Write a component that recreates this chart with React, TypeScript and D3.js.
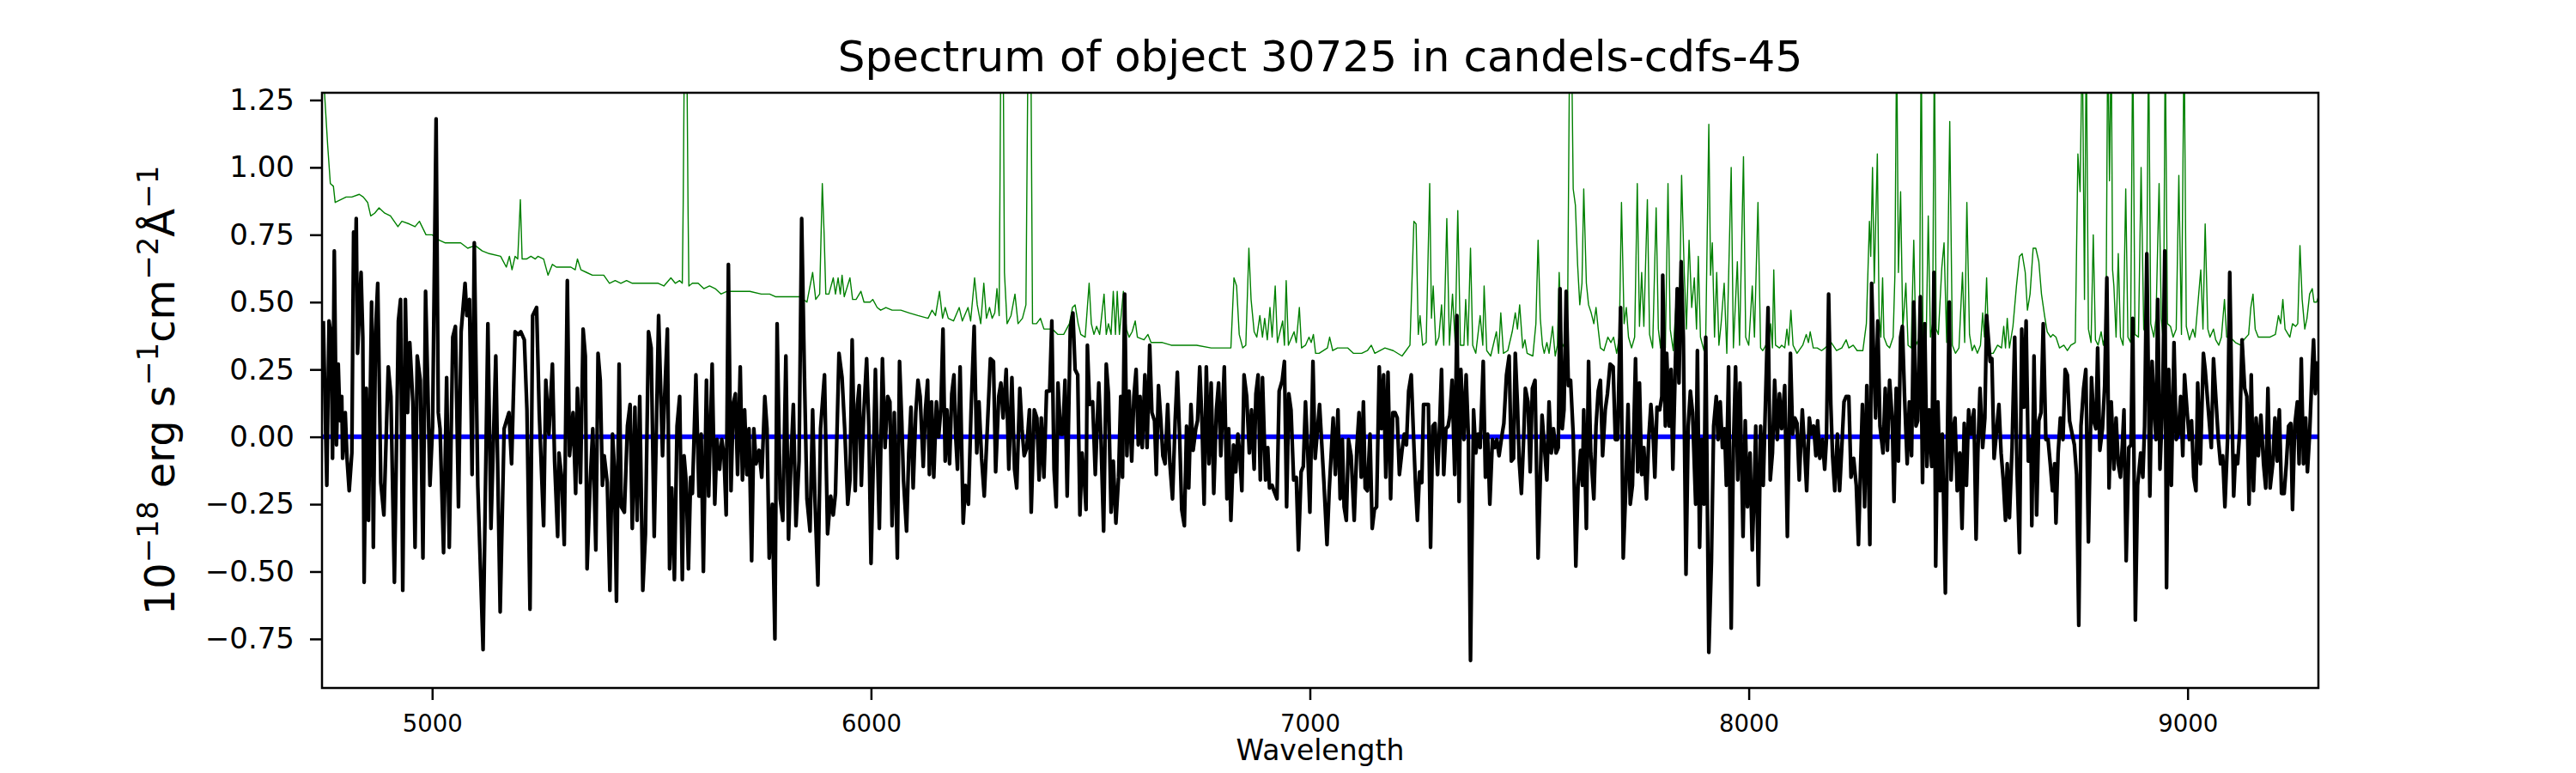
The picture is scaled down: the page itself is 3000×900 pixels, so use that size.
import React, { useEffect, useRef } from 'react';
import * as d3 from 'd3';

type Pt = [number, number];

const TITLE = 'Spectrum of object 30725 in candels-cdfs-45';
const X_LABEL = 'Wavelength';
const xTicks = [5000, 6000, 7000, 8000, 9000];
const yTicks = [1.25, 1.0, 0.75, 0.5, 0.25, 0, -0.25, -0.5, -0.75];
const xDomain: [number, number] = [4749, 9298];
const yDomain: [number, number] = [-0.932, 1.277];
const zeroLevel = 0;

// object spectrum (black), [wavelength, flux]
const objectFlux: Pt[] = [
  [4752, 0.43], [4760, -0.18], [4765, 0.43], [4770, 0.37], [4773, -0.08], [4777, 0.69], [4782, -0.03], [4786, 0.27],
  [4790, 0.06], [4794, 0.15], [4796, -0.08], [4802, 0.09], [4806, -0.08], [4811, -0.2], [4817, -0.06], [4821, 0.76],
  [4825, 0.61], [4827, 0.81], [4830, 0.31], [4838, 0.61], [4842, 0.37], [4845, -0.54], [4850, 0.18], [4855, -0.31],
  [4862, 0.5], [4866, -0.41], [4871, 0.39], [4876, 0.57], [4883, -0.17], [4890, -0.29], [4894, -0.07], [4900, 0.26],
  [4906, 0.15], [4914, -0.54], [4923, 0.43], [4928, 0.51], [4933, -0.57], [4939, 0.51], [4944, 0.09], [4949, 0.35],
  [4956, 0.13], [4961, -0.41], [4966, 0.3], [4973, 0.21], [4979, -0.45], [4985, 0.54], [4990, 0.19], [4995, -0.18],
  [5001, 0.04], [5009, 1.18], [5014, 0.09], [5018, 0.03], [5026, -0.43], [5033, 0.22], [5039, -0.41], [5047, 0.37],
  [5053, 0.41], [5060, -0.26], [5066, 0.39], [5075, 0.57], [5079, 0.45], [5085, 0.51], [5091, -0.14], [5096, 0.72],
  [5104, -0.18], [5116, -0.79], [5127, 0.42], [5134, -0.34], [5145, 0.3], [5155, -0.65], [5164, 0.03], [5175, 0.09],
  [5181, -0.1], [5189, 0.39], [5196, 0.38], [5202, 0.39], [5210, 0.36], [5216, 0.1], [5223, -0.64], [5229, 0.45],
  [5238, 0.48], [5244, 0.09], [5254, -0.33], [5259, 0.21], [5266, 0.01], [5274, 0.27], [5279, -0.09], [5286, -0.37],
  [5289, -0.06], [5295, -0.15], [5301, -0.4], [5308, 0.58], [5313, -0.07], [5321, 0.09], [5327, -0.21], [5331, 0.18],
  [5338, -0.17], [5344, 0.4], [5349, 0.3], [5353, -0.49], [5360, -0.17], [5366, 0.03], [5373, -0.42], [5378, 0.31],
  [5383, 0.21], [5388, -0.18], [5392, -0.07], [5399, -0.17], [5405, -0.57], [5411, 0.01], [5415, -0.11], [5420, -0.61],
  [5426, 0.27], [5431, -0.26], [5438, -0.28], [5445, 0.04], [5451, 0.12], [5456, -0.34], [5462, 0.11], [5467, -0.31],
  [5473, 0.15], [5480, -0.57], [5486, -0.36], [5493, 0.39], [5499, 0.33], [5506, -0.37],
  [5516, 0.45], [5525, -0.07], [5529, 0.12], [5536, 0.4], [5541, -0.49], [5546, -0.19], [5552, -0.53], [5558, 0.04],
  [5564, 0.15], [5570, -0.53], [5574, -0.07], [5579, -0.17], [5584, -0.49], [5589, -0.15], [5593, -0.21], [5601, 0.23],
  [5608, -0.22], [5613, 0.01], [5618, -0.5], [5625, 0.21], [5630, -0.22], [5638, 0.27], [5644, -0.25], [5649, -0.01],
  [5655, -0.12], [5660, -0.01], [5665, -0.07], [5670, -0.29], [5675, 0.64], [5681, -0.2], [5686, 0.12], [5691, 0.16],
  [5696, -0.14], [5702, 0.26], [5707, -0.16], [5712, 0.1], [5717, -0.14], [5722, 0.03], [5728, -0.46], [5733, 0.03],
  [5738, -0.1], [5745, -0.05], [5751, -0.15], [5758, 0.15], [5763, 0.03], [5768, -0.45], [5775, -0.25], [5781, -0.75],
  [5786, 0.42], [5793, -0.23], [5799, -0.31], [5806, 0.3], [5812, -0.38], [5818, -0.07], [5823, 0.12], [5829, -0.33],
  [5836, -0.09], [5842, 0.81], [5848, 0.25], [5854, -0.23], [5861, -0.35], [5867, 0.1], [5872, -0.22], [5879, -0.55],
  [5885, 0.03], [5894, 0.23], [5901, -0.36], [5908, -0.22], [5914, -0.29], [5919, -0.21], [5927, 0.31], [5934, 0.22],
  [5940, 0.03], [5947, -0.25], [5952, -0.16], [5957, 0.36], [5964, -0.2], [5969, 0.12], [5973, 0.19], [5978, -0.18],
  [5983, 0.07], [5990, 0.29], [5995, 0.04], [6000, -0.47], [6010, 0.25],
  [6019, -0.34], [6026, 0.29], [6032, -0.04], [6038, 0.15], [6043, 0.13], [6048, -0.33], [6053, 0.09], [6060, -0.45],
  [6065, 0.28], [6070, 0.06], [6074, -0.16], [6081, -0.35], [6086, -0.06], [6091, 0.11], [6096, -0.19], [6102, 0.09],
  [6107, 0.21], [6112, 0.15], [6119, -0.11], [6124, 0.1], [6129, 0.21], [6133, -0.14], [6138, 0.13], [6143, -0.15],
  [6149, 0.13], [6154, 0.0], [6159, 0.1], [6164, 0.4], [6169, -0.09], [6173, 0.1], [6179, -0.1], [6184, 0.16],
  [6189, 0.23], [6193, 0.0], [6197, -0.12], [6203, 0.26], [6210, -0.32], [6215, -0.18], [6222, -0.25], [6228, 0.1],
  [6235, 0.41], [6241, -0.06], [6246, 0.13], [6252, -0.08], [6258, -0.22], [6265, 0.03], [6272, 0.29], [6279, 0.28],
  [6284, -0.13], [6291, 0.15], [6296, 0.2], [6301, 0.07], [6308, 0.25], [6314, -0.12], [6321, 0.22], [6327, -0.12],
  [6332, -0.19], [6339, 0.18], [6344, 0.03], [6349, -0.07], [6355, -0.04], [6361, 0.1], [6365, -0.28], [6372, 0.1],
  [6378, 0.07], [6383, -0.16], [6388, 0.07], [6394, -0.15], [6400, 0.17], [6407, 0.17], [6412, 0.43], [6417, -0.12],
  [6422, -0.26], [6426, 0.2], [6432, 0.01], [6437, 0.01], [6442, 0.21], [6447, -0.22], [6454, 0.4], [6460, 0.46],
  [6465, 0.25], [6471, 0.23], [6476, -0.29], [6481, -0.06], [6486, -0.16], [6490, -0.27], [6493, 0.34], [6498, 0.12],
  [6505, 0.13], [6511, -0.14],
  [6519, 0.2], [6524, -0.01], [6530, -0.35], [6536, 0.27], [6541, 0.16], [6547, -0.28], [6552, -0.09], [6558, -0.32],
  [6564, -0.15], [6569, 0.15], [6573, -0.15], [6578, 0.53], [6583, -0.07], [6588, 0.17], [6594, -0.09], [6599, 0.15],
  [6604, 0.25], [6609, -0.03], [6613, 0.15], [6618, -0.04], [6624, 0.23], [6629, -0.04], [6635, 0.34], [6640, 0.09],
  [6646, 0.06], [6650, -0.14], [6655, 0.19], [6660, 0.07], [6665, -0.07], [6670, -0.1], [6676, 0.12], [6681, -0.1],
  [6687, -0.23], [6693, 0.06], [6698, 0.24], [6703, 0.01], [6708, -0.27], [6714, -0.33], [6719, 0.04], [6724, -0.19],
  [6729, 0.12], [6734, -0.05], [6740, 0.03], [6744, 0.06], [6749, 0.26], [6754, 0.06], [6759, -0.25], [6764, 0.26],
  [6770, -0.1], [6775, 0.2], [6781, -0.21], [6787, 0.1], [6792, 0.2], [6797, -0.07], [6805, 0.26], [6811, -0.23],
  [6815, 0.03], [6820, -0.31], [6826, -0.03], [6831, -0.13], [6836, 0.01], [6840, -0.06], [6845, -0.2], [6850, 0.23],
  [6856, 0.15], [6862, -0.06], [6867, 0.1], [6873, -0.12], [6877, 0.16], [6882, 0.23], [6887, -0.16], [6892, 0.22],
  [6899, -0.16], [6904, -0.04], [6908, -0.19], [6914, -0.18], [6918, -0.2], [6925, -0.23], [6930, 0.17], [6937, 0.21],
  [6942, 0.28], [6947, -0.26], [6952, 0.16], [6957, 0.1], [6963, -0.16], [6969, -0.15], [6974, -0.42], [6980, -0.13],
  [6985, -0.11], [6990, 0.13], [6995, -0.05], [7000, -0.28], [7007, 0.28], [7012, -0.08], [7022, 0.12],
  [7032, -0.17], [7039, -0.4], [7044, -0.2], [7049, -0.05], [7053, 0.07], [7058, -0.14], [7064, 0.1], [7069, -0.23],
  [7074, -0.01], [7078, -0.26], [7083, -0.31], [7088, -0.01], [7094, -0.07], [7101, -0.31], [7107, -0.04], [7112, 0.09],
  [7117, -0.15], [7122, 0.13], [7126, -0.19], [7131, -0.2], [7137, 0.01], [7142, -0.34], [7147, -0.27], [7152, -0.26],
  [7158, 0.26], [7163, 0.03], [7168, 0.23], [7173, -0.15], [7178, 0.24], [7184, -0.23], [7189, 0.09], [7194, 0.09],
  [7199, 0.07], [7204, -0.14], [7210, -0.05], [7215, 0.01], [7220, -0.03], [7225, 0.17], [7231, 0.23], [7236, 0.01],
  [7241, -0.19], [7245, -0.31], [7250, -0.13], [7255, -0.17], [7259, 0.12], [7264, 0.12], [7270, 0.12], [7275, -0.41],
  [7280, 0.04], [7285, 0.05], [7291, -0.14], [7296, 0.06], [7300, 0.25], [7305, -0.14], [7310, 0.03], [7315, 0.04],
  [7319, 0.08], [7324, 0.21], [7330, -0.14], [7335, 0.45], [7340, -0.24], [7344, 0.25], [7351, -0.01], [7356, 0.23],
  [7361, 0.01], [7366, -0.83], [7373, 0.1], [7378, -0.06], [7383, 0.01], [7388, -0.04], [7395, 0.28], [7400, -0.15],
  [7405, 0.01], [7410, -0.25], [7416, -0.01], [7421, -0.04], [7426, -0.01], [7431, -0.07], [7438, 0.01], [7442, 0.05],
  [7448, 0.23], [7454, 0.3], [7459, -0.09], [7464, -0.08], [7468, 0.31], [7473, 0.12], [7477, -0.09], [7482, -0.21],
  [7487, -0.01], [7491, 0.18], [7497, 0.13], [7502, -0.13], [7507, 0.18], [7513, 0.21], [7520, -0.45],
  [7529, 0.08], [7540, -0.16], [7545, 0.13], [7550, -0.06], [7555, 0.03], [7561, -0.06], [7566, -0.04], [7570, 0.55],
  [7575, 0.03], [7579, 0.1], [7584, 0.54], [7589, 0.19], [7594, 0.21], [7600, 0.01], [7606, -0.48], [7611, -0.18],
  [7617, -0.05], [7621, -0.18], [7624, 0.1], [7630, -0.34], [7635, 0.28], [7640, -0.06], [7647, -0.23], [7652, 0.04],
  [7657, 0.17], [7662, 0.21], [7667, -0.07], [7673, 0.1], [7678, 0.16], [7684, 0.27], [7691, 0.26], [7696, -0.01],
  [7701, -0.01], [7708, 0.48], [7714, -0.45], [7720, -0.18], [7725, 0.12], [7730, -0.25], [7735, -0.18], [7742, 0.29],
  [7747, -0.13], [7751, 0.2], [7756, -0.14], [7761, -0.04], [7767, -0.23], [7772, -0.01], [7777, 0.12], [7782, 0.01],
  [7786, -0.15], [7791, 0.11], [7797, 0.1], [7802, 0.15], [7804, 0.6], [7810, 0.04], [7813, 0.31], [7819, 0.04],
  [7823, 0.25], [7827, -0.12], [7832, 0.22], [7837, 0.55], [7841, 0.2], [7846, 0.65], [7851, 0.37], [7857, -0.51],
  [7862, 0.04], [7867, 0.17], [7872, 0.09], [7879, -0.25], [7883, 0.32], [7888, -0.41], [7893, -0.01], [7898, -0.25],
  [7902, 0.37], [7909, -0.8], [7915, -0.46], [7920, 0.04], [7926, 0.15], [7930, -0.01], [7935, 0.13], [7940, -0.04],
  [7945, 0.03], [7949, -0.18], [7954, 0.26], [7960, -0.71], [7965, -0.04], [7970, 0.26], [7975, -0.16], [7980, 0.2],
  [7987, -0.37], [7992, 0.06], [7997, -0.26], [8003, -0.06], [8008, -0.42], [8012, -0.22], [8016, 0.04], [8022, -0.55],
  [8027, 0.04], [8033, -0.18],
  [8044, 0.48], [8049, -0.16], [8054, -0.06], [8059, 0.21], [8065, -0.01], [8070, 0.16], [8075, 0.03], [8082, 0.19],
  [8088, -0.37], [8095, 0.31], [8100, 0.01], [8105, 0.07], [8110, 0.05], [8115, -0.16], [8122, 0.1], [8127, -0.04],
  [8132, -0.2], [8138, 0.07], [8143, 0.01], [8148, 0.04], [8153, -0.07], [8157, 0.06], [8162, -0.08], [8168, -0.01],
  [8173, -0.12], [8177, -0.01], [8182, 0.53], [8187, 0.12], [8191, -0.07], [8196, -0.2], [8202, 0.01], [8207, -0.2],
  [8212, -0.04], [8217, 0.13], [8222, 0.15], [8228, 0.15], [8233, -0.15], [8239, -0.08], [8245, -0.18], [8250, -0.4],
  [8255, -0.1], [8259, 0.12], [8264, -0.26], [8269, 0.19], [8276, -0.4], [8280, 0.57], [8285, 0.28], [8289, 0.07],
  [8294, 0.43], [8299, 0.04], [8306, -0.06], [8311, 0.18], [8316, -0.05], [8321, 0.21], [8327, 0.06], [8331, -0.24],
  [8336, 0.18], [8341, -0.09], [8346, 0.37], [8350, 0.41], [8355, 0.15], [8361, -0.1], [8366, 0.13], [8371, -0.07],
  [8376, 0.5], [8381, 0.04], [8385, 0.06], [8391, 0.52], [8396, -0.17], [8401, 0.42], [8406, -0.11], [8411, 0.1],
  [8417, -0.11], [8422, 0.61], [8426, -0.48], [8431, 0.13], [8436, -0.2], [8441, 0.01], [8448, -0.58], [8453, 0.04],
  [8457, 0.5], [8461, -0.16], [8466, 0.03], [8470, 0.07], [8475, -0.2], [8481, -0.06], [8486, -0.34], [8491, 0.05],
  [8496, -0.18], [8501, 0.1], [8507, 0.01], [8513, 0.1], [8518, -0.38], [8522, -0.06], [8527, 0.18], [8533, -0.04],
  [8538, 0.07],
  [8542, 0.45], [8550, 0.28], [8554, 0.29], [8559, -0.08], [8564, 0.01], [8570, 0.12], [8575, -0.06], [8580, -0.16],
  [8585, -0.31], [8589, -0.1], [8594, -0.3], [8600, -0.04], [8606, 0.37], [8611, -0.11], [8617, -0.43], [8622, 0.4],
  [8627, 0.11], [8632, 0.43], [8637, -0.09], [8643, -0.01], [8645, -0.33], [8650, 0.3], [8656, -0.29], [8661, 0.06],
  [8666, 0.09], [8671, 0.42], [8677, -0.01], [8682, -0.01], [8687, -0.1], [8692, -0.2], [8697, -0.1], [8700, -0.32],
  [8705, -0.06], [8710, 0.07], [8716, -0.01], [8721, 0.25], [8726, 0.23], [8731, 0.06], [8737, 0.01], [8742, -0.03],
  [8747, -0.14], [8752, -0.7], [8757, 0.04], [8763, 0.18], [8768, 0.25], [8774, -0.39], [8781, 0.22], [8786, 0.06],
  [8791, 0.03], [8795, 0.33], [8800, -0.05], [8806, 0.03], [8811, 0.19], [8816, 0.59], [8821, -0.19], [8826, 0.13],
  [8832, -0.12], [8837, 0.07], [8842, -0.1], [8847, -0.15], [8851, -0.04], [8855, 0.1], [8860, -0.46], [8866, -0.04],
  [8871, -0.03], [8875, 0.44], [8881, -0.68], [8886, -0.18], [8893, -0.06], [8898, -0.15], [8902, 0.04], [8907, 0.68],
  [8914, -0.22], [8919, 0.28], [8923, 0.13], [8928, -0.01], [8932, 0.51], [8937, -0.12], [8943, 0.13], [8948, 0.69],
  [8952, -0.56], [8957, 0.25], [8963, -0.18], [8969, 0.35], [8974, -0.01], [8979, 0.01], [8984, 0.15], [8989, -0.07],
  [8993, 0.23], [8999, 0.09], [9004, -0.01], [9009, 0.06], [9014, -0.15], [9019, -0.2], [9023, 0.2], [9029, -0.1],
  [9036, 0.31], [9040, 0.25],
  [9054, -0.04], [9059, 0.29], [9070, -0.01], [9075, -0.1], [9080, -0.07], [9085, -0.26], [9091, -0.01], [9096, 0.61],
  [9101, 0.1], [9105, -0.22], [9109, -0.07], [9114, -0.1], [9119, 0.03], [9124, 0.36], [9130, 0.18], [9135, 0.15],
  [9140, -0.25], [9145, 0.23], [9150, -0.2], [9156, 0.07], [9161, -0.07], [9167, 0.08], [9173, -0.1], [9178, -0.19],
  [9183, 0.18], [9188, -0.19], [9194, -0.1], [9199, 0.07], [9204, -0.09], [9209, 0.1], [9214, -0.21], [9220, -0.21],
  [9225, -0.1], [9230, 0.04], [9235, 0.05], [9239, -0.27], [9244, 0.04], [9250, 0.13], [9254, -0.1], [9259, 0.29],
  [9264, -0.1], [9269, 0.07], [9273, -0.13], [9278, 0.01], [9284, 0.26], [9287, 0.36], [9291, 0.16], [9297, 0.28],
];

// noise / sky spectrum (green), [wavelength, flux]
const noiseFlux: Pt[] = [
  [4751, 1.45], [4755, 1.27], [4762, 1.08], [4768, 0.94], [4775, 0.93], [4779, 0.87], [4791, 0.88], [4804, 0.89],
  [4817, 0.89], [4834, 0.9], [4843, 0.89], [4853, 0.87], [4860, 0.82], [4869, 0.83], [4879, 0.85], [4892, 0.83],
  [4905, 0.82], [4922, 0.78], [4931, 0.8], [4948, 0.79], [4961, 0.78], [4971, 0.8], [4986, 0.75], [5000, 0.75],
  [5016, 0.73], [5029, 0.72], [5046, 0.72], [5065, 0.72], [5081, 0.7], [5098, 0.71], [5114, 0.69], [5130, 0.68],
  [5156, 0.67], [5169, 0.63], [5176, 0.67], [5182, 0.62], [5189, 0.67], [5195, 0.66], [5201, 0.88], [5205, 0.66],
  [5215, 0.66], [5225, 0.67], [5235, 0.66], [5241, 0.67], [5254, 0.66], [5264, 0.6], [5274, 0.64], [5283, 0.63],
  [5300, 0.63], [5316, 0.63], [5326, 0.62], [5331, 0.66], [5339, 0.62], [5352, 0.61], [5365, 0.6], [5381, 0.6],
  [5391, 0.6], [5404, 0.57], [5417, 0.58], [5430, 0.57], [5443, 0.58], [5456, 0.57], [5469, 0.57], [5482, 0.57],
  [5495, 0.57], [5515, 0.57],
  [5528, 0.56], [5544, 0.59], [5554, 0.57], [5564, 0.58], [5570, 0.57], [5572, 0.86], [5575, 1.5], [5580, 1.5],
  [5583, 0.86], [5585, 0.56], [5593, 0.57], [5606, 0.57], [5619, 0.55], [5632, 0.56], [5645, 0.55], [5658, 0.53],
  [5672, 0.54], [5685, 0.54], [5698, 0.54], [5724, 0.54], [5750, 0.53], [5769, 0.53], [5782, 0.52], [5802, 0.52],
  [5828, 0.52], [5838, 0.52], [5854, 0.5], [5867, 0.61], [5874, 0.51], [5883, 0.53], [5889, 0.94], [5893, 0.76],
  [5897, 0.53], [5904, 0.53], [5914, 0.59], [5919, 0.53], [5925, 0.59], [5930, 0.53], [5934, 0.6], [5939, 0.52],
  [5952, 0.59], [5958, 0.51], [5966, 0.51], [5977, 0.54], [5984, 0.5], [5998, 0.5], [6004, 0.51], [6014, 0.48],
  [6022, 0.47], [6034, 0.48], [6048, 0.47], [6068, 0.47], [6087, 0.46], [6107, 0.45], [6130, 0.44], [6139, 0.47],
  [6147, 0.45], [6156, 0.54], [6163, 0.44], [6169, 0.48], [6176, 0.44], [6188, 0.43], [6201, 0.48], [6208, 0.43],
  [6221, 0.48], [6227, 0.43], [6236, 0.59], [6242, 0.49], [6250, 0.42], [6257, 0.57], [6263, 0.44], [6270, 0.48],
  [6276, 0.44], [6282, 0.46], [6287, 0.55], [6292, 0.45], [6296, 1.5], [6301, 1.5], [6304, 0.61], [6310, 0.42],
  [6319, 0.45], [6328, 0.53], [6335, 0.42], [6345, 0.44], [6353, 0.49], [6358, 1.5], [6364, 1.5], [6368, 0.42],
  [6377, 0.42], [6386, 0.44], [6394, 0.4], [6413, 0.4], [6426, 0.38], [6439, 0.38], [6452, 0.42], [6459, 0.48],
  [6465, 0.49], [6472, 0.42], [6478, 0.38], [6488, 0.37], [6497, 0.57], [6502, 0.42], [6508, 0.38],
  [6514, 0.41], [6521, 0.38], [6531, 0.53], [6536, 0.38], [6541, 0.42], [6547, 0.38], [6552, 0.54], [6557, 0.38],
  [6561, 0.54], [6566, 0.38], [6575, 0.54], [6582, 0.4], [6588, 0.37], [6595, 0.39], [6602, 0.43], [6607, 0.37],
  [6622, 0.36], [6631, 0.38], [6638, 0.35], [6664, 0.35], [6684, 0.34], [6710, 0.34], [6742, 0.34], [6775, 0.33],
  [6801, 0.33], [6820, 0.33], [6827, 0.59], [6833, 0.56], [6839, 0.38], [6847, 0.33], [6854, 0.34], [6861, 0.7],
  [6866, 0.51], [6873, 0.39], [6879, 0.37], [6886, 0.45], [6892, 0.37], [6897, 0.44], [6903, 0.36], [6909, 0.48],
  [6914, 0.37], [6921, 0.56], [6926, 0.35], [6938, 0.43], [6942, 0.34], [6946, 0.58], [6951, 0.34], [6964, 0.39],
  [6969, 0.35], [6976, 0.48], [6981, 0.33], [6990, 0.34], [6998, 0.37], [7003, 0.35], [7008, 0.38], [7013, 0.31],
  [7021, 0.31], [7040, 0.33], [7045, 0.37], [7052, 0.32], [7063, 0.33], [7076, 0.33], [7086, 0.33], [7099, 0.31],
  [7118, 0.31], [7131, 0.32], [7140, 0.34], [7148, 0.31], [7171, 0.33], [7190, 0.32], [7210, 0.3], [7219, 0.32],
  [7228, 0.34], [7237, 0.8], [7242, 0.79], [7247, 0.38], [7251, 0.45], [7257, 0.34], [7265, 0.35], [7273, 0.94],
  [7277, 0.44], [7281, 0.56], [7287, 0.34], [7294, 0.37], [7300, 0.49], [7305, 0.34], [7312, 0.81], [7318, 0.34],
  [7325, 0.53], [7331, 0.35], [7337, 0.84], [7343, 0.34], [7351, 0.34], [7355, 0.51], [7360, 0.34], [7366, 0.7],
  [7371, 0.34], [7378, 0.31], [7388, 0.45], [7394, 0.34], [7397, 0.56], [7403, 0.32], [7412, 0.3], [7425, 0.39],
  [7430, 0.31], [7435, 0.46], [7441, 0.31], [7451, 0.32], [7461, 0.39], [7468, 0.46], [7473, 0.4], [7478, 0.49],
  [7485, 0.33], [7490, 0.36], [7495, 0.31], [7508, 0.3], [7515, 0.42], [7520, 0.73], [7525, 0.44], [7530, 0.34],
  [7534, 0.31], [7540, 0.35], [7545, 0.31], [7553, 0.41], [7559, 0.3], [7564, 0.34], [7568, 0.61], [7574, 0.35],
  [7580, 0.33], [7587, 0.4], [7592, 1.5], [7596, 1.5], [7600, 0.92], [7605, 0.86], [7610, 0.64], [7615, 0.49],
  [7620, 0.57], [7624, 0.92], [7630, 0.57], [7635, 0.49], [7641, 0.46], [7647, 0.42], [7652, 0.48], [7657, 0.4],
  [7662, 0.33], [7670, 0.32], [7679, 0.37], [7686, 0.35], [7692, 0.37], [7699, 0.31], [7705, 0.37], [7710, 0.87],
  [7716, 0.42], [7721, 0.48], [7726, 0.37], [7733, 0.33], [7740, 0.37], [7746, 0.94], [7751, 0.41], [7756, 0.61],
  [7761, 0.41], [7769, 0.88], [7774, 0.38], [7781, 0.33], [7789, 0.85], [7794, 0.4], [7799, 0.33], [7804, 0.48],
  [7810, 0.33], [7816, 0.94], [7821, 0.4], [7828, 0.32], [7836, 0.54], [7841, 0.37], [7847, 0.97], [7853, 0.61],
  [7858, 0.4], [7864, 0.73], [7870, 0.48], [7876, 0.59], [7881, 0.4], [7885, 0.67], [7890, 0.37], [7898, 0.32],
  [7902, 0.37], [7909, 1.16], [7913, 0.6], [7917, 0.72], [7922, 0.37], [7927, 0.61], [7932, 0.34], [7937, 0.42],
  [7944, 0.57], [7950, 0.31], [7960, 1.0], [7965, 0.33], [7974, 0.65], [7979, 0.34], [7988, 1.04], [7993, 0.37],
  [8000, 0.34], [8008, 0.56], [8013, 0.37], [8021, 0.87], [8027, 0.33],
  [8032, 0.32], [8039, 0.34], [8044, 0.33], [8050, 0.42], [8054, 0.33], [8057, 0.62], [8061, 0.34], [8070, 0.33],
  [8075, 0.34], [8082, 0.33], [8087, 0.4], [8091, 0.34], [8096, 0.47], [8101, 0.34], [8110, 0.31], [8123, 0.34],
  [8131, 0.38], [8136, 0.35], [8140, 0.39], [8147, 0.33], [8156, 0.33], [8166, 0.32], [8174, 0.33], [8188, 0.35],
  [8200, 0.32], [8212, 0.33], [8222, 0.36], [8228, 0.33], [8238, 0.34], [8247, 0.32], [8260, 0.32], [8268, 0.42],
  [8275, 0.8], [8278, 0.67], [8282, 1.0], [8286, 0.57], [8293, 1.05], [8297, 0.45], [8301, 0.37], [8305, 0.59],
  [8308, 0.37], [8315, 0.34], [8321, 0.33], [8329, 0.37], [8333, 0.6], [8337, 1.5], [8341, 0.61], [8346, 0.91],
  [8351, 0.4], [8358, 0.57], [8363, 0.34], [8370, 0.33], [8376, 0.73], [8381, 0.34], [8389, 0.37], [8393, 1.5],
  [8397, 0.37], [8404, 0.33], [8409, 0.82], [8414, 0.37], [8419, 0.42], [8423, 1.5], [8427, 0.4], [8432, 0.38],
  [8440, 0.63], [8445, 0.72], [8451, 0.35], [8458, 1.17], [8464, 0.34], [8471, 0.31], [8479, 0.33], [8487, 0.61],
  [8492, 0.35], [8497, 0.87], [8503, 0.38], [8509, 0.32], [8514, 0.34], [8521, 0.31], [8528, 0.34], [8533, 0.46],
  [8537, 0.37], [8542, 0.59], [8547, 0.31], [8557, 0.31], [8567, 0.34], [8576, 0.33], [8581, 0.41], [8585, 0.33],
  [8589, 0.44], [8594, 0.33], [8602, 0.41], [8610, 0.56], [8617, 0.67], [8623, 0.68], [8630, 0.61], [8635, 0.47],
  [8641, 0.53], [8648, 0.7], [8654, 0.7], [8661, 0.65], [8667, 0.53], [8674, 0.45], [8680, 0.39], [8688, 0.37],
  [8693, 0.38], [8700, 0.37], [8708, 0.33], [8718, 0.34], [8726, 0.32], [8734, 0.34], [8744, 0.35], [8750, 1.05],
  [8755, 0.91], [8760, 1.5], [8765, 0.51], [8769, 1.5], [8774, 0.4], [8780, 0.35], [8785, 0.75], [8790, 0.36],
  [8796, 0.34], [8803, 0.39], [8808, 0.34], [8814, 0.4], [8818, 1.5], [8822, 0.95], [8826, 1.5], [8829, 0.62],
  [8832, 0.56], [8837, 0.37], [8842, 0.68], [8847, 0.37], [8853, 0.34], [8859, 0.92], [8864, 0.37], [8870, 0.35],
  [8875, 1.5], [8880, 0.38], [8888, 0.37], [8894, 1.0], [8900, 0.4], [8906, 0.38], [8911, 1.5], [8916, 0.42],
  [8923, 0.37], [8928, 0.44], [8935, 0.94], [8940, 0.44], [8945, 0.35], [8949, 1.5], [8954, 0.42], [8961, 0.41],
  [8967, 0.37], [8974, 0.4], [8980, 0.97], [8986, 0.38], [8992, 1.5], [8997, 0.41], [9004, 0.36], [9012, 0.4],
  [9017, 0.37], [9030, 0.62], [9035, 0.4], [9040, 0.79], [9046, 0.4], [9051, 0.37],
  [9059, 0.4], [9064, 0.36], [9071, 0.34], [9077, 0.37], [9084, 0.51], [9089, 0.37], [9097, 0.37], [9109, 0.35],
  [9121, 0.34], [9128, 0.36], [9139, 0.38], [9144, 0.48], [9149, 0.53], [9154, 0.4], [9161, 0.37], [9174, 0.37],
  [9187, 0.37], [9200, 0.38], [9207, 0.45], [9212, 0.42], [9217, 0.51], [9222, 0.4], [9233, 0.37], [9239, 0.42],
  [9246, 0.41], [9251, 0.42], [9256, 0.71], [9261, 0.51], [9267, 0.4], [9272, 0.44], [9278, 0.53], [9284, 0.55],
  [9288, 0.5], [9294, 0.5], [9298, 0.52],
];

const WIDTH = 3000;
const HEIGHT = 900;
const margin = { top: 108, right: 300, bottom: 99, left: 375 };
const FONT = "'DejaVu Sans', sans-serif";

export default function App() {
  const svgRef = useRef<SVGSVGElement>(null);

  useEffect(() => {
    if (!svgRef.current) return;
    const svg = d3.select(svgRef.current);
    svg.selectAll('*').remove();

    const x = d3.scaleLinear().domain(xDomain).range([margin.left, WIDTH - margin.right]);
    const y = d3.scaleLinear().domain(yDomain).range([HEIGHT - margin.bottom, margin.top]);

    svg.append('rect').attr('width', WIDTH).attr('height', HEIGHT).attr('fill', '#fff');

    svg.append('defs').append('clipPath').attr('id', 'plot-clip')
      .append('rect')
      .attr('x', margin.left)
      .attr('y', margin.top)
      .attr('width', WIDTH - margin.left - margin.right)
      .attr('height', HEIGHT - margin.top - margin.bottom);

    const plot = svg.append('g').attr('clip-path', 'url(#plot-clip)');
    const line = d3.line<Pt>().x(d => x(d[0])).y(d => y(d[1]));

    // noise spectrum
    plot.append('path')
      .datum(noiseFlux)
      .attr('d', line)
      .attr('fill', 'none')
      .attr('stroke', '#008000')
      .attr('stroke-width', 1.4)
      .attr('stroke-linejoin', 'round');

    // zero level
    plot.append('line')
      .attr('x1', x(xDomain[0]))
      .attr('x2', x(xDomain[1]))
      .attr('y1', y(zeroLevel))
      .attr('y2', y(zeroLevel))
      .attr('stroke', '#0000ff')
      .attr('stroke-width', 5.5);

    // object spectrum
    plot.append('path')
      .datum(objectFlux)
      .attr('d', line)
      .attr('fill', 'none')
      .attr('stroke', '#000')
      .attr('stroke-width', 4.3)
      .attr('stroke-linejoin', 'round');

    // axes
    const xAxis = svg.append('g')
      .attr('transform', `translate(0,${HEIGHT - margin.bottom})`)
      .call(d3.axisBottom(x).tickValues(xTicks).tickSize(14).tickPadding(17.5).tickFormat(d3.format('d')));
    xAxis.selectAll('text').attr('font-size', 27.5).attr('font-family', FONT).attr('fill', '#000');

    const yAxis = svg.append('g')
      .attr('transform', `translate(${margin.left},0)`)
      .call(d3.axisLeft(y).tickValues(yTicks).tickSize(14).tickPadding(18).tickFormat(d3.format('.2f')));
    yAxis.selectAll('text').attr('font-size', 34).attr('font-family', FONT).attr('fill', '#000');

    [xAxis, yAxis].forEach(g => {
      g.select('.domain').remove();
      g.selectAll('.tick line').attr('stroke', '#000').attr('stroke-width', 2.5);
    });

    // frame
    svg.append('rect')
      .attr('x', margin.left)
      .attr('y', margin.top)
      .attr('width', WIDTH - margin.left - margin.right)
      .attr('height', HEIGHT - margin.top - margin.bottom)
      .attr('fill', 'none')
      .attr('stroke', '#000')
      .attr('stroke-width', 2.5);

    // title
    svg.append('text')
      .attr('x', (margin.left + WIDTH - margin.right) / 2)
      .attr('y', 83)
      .attr('text-anchor', 'middle')
      .attr('font-family', FONT)
      .attr('font-size', 50)
      .text(TITLE);

    // x label
    svg.append('text')
      .attr('x', (margin.left + WIDTH - margin.right) / 2)
      .attr('y', 885)
      .attr('text-anchor', 'middle')
      .attr('font-family', FONT)
      .attr('font-size', 33)
      .text(X_LABEL);

    // y label with superscripts
    const yl = svg.append('text')
      .attr('transform', `translate(203,${(margin.top + HEIGHT - margin.bottom) / 2}) rotate(-90)`)
      .attr('text-anchor', 'middle')
      .attr('font-family', FONT)
      .attr('font-size', 48);
    const parts: [string, boolean][] = [
      ['10', false], ['\u221218', true], [' erg s', false], ['\u22121', true],
      ['cm', false], ['\u22122', true], ['\u00c5', false], ['\u22121', true],
    ];
    let raised = false;
    parts.forEach(([txt, sup]) => {
      const shift = sup === raised ? 0 : sup ? -19 : 19;
      raised = sup;
      yl.append('tspan')
        .attr('dy', shift)
        .attr('font-size', sup ? 34 : 48)
        .text(txt);
    });
  }, []);

  return (
    <div style={{ position: 'absolute', left: 0, top: 0 }}>
      <svg ref={svgRef} width={WIDTH} height={HEIGHT} />
    </div>
  );
}
